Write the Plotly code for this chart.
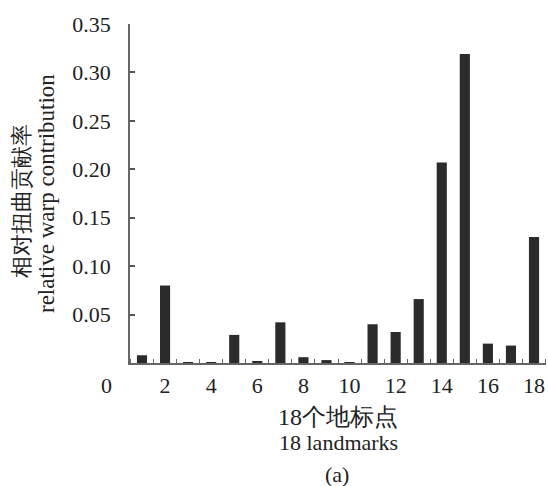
import plotly.graph_objects as go

landmarks = list(range(1, 19))
contribution = [0.008, 0.080, 0.0006, 0.0006, 0.029, 0.002, 0.042, 0.006, 0.003,
                0.0006, 0.040, 0.032, 0.066, 0.207, 0.319, 0.020, 0.018, 0.130]
x_tick_vals = [2, 4, 6, 8, 10, 12, 14, 16, 18]
y_tick_vals = [0.05, 0.10, 0.15, 0.20, 0.25, 0.30, 0.35]
y_tick_text = ["0.05", "0.10", "0.15", "0.20", "0.25", "0.30", "0.35"]

FONT = "Liberation Serif, Times New Roman, DejaVu Serif, serif"
TXT = "#222"
W, H = 548, 486
L, R, T, B = 130, 2, 24, 123

fig = go.Figure(go.Bar(x=landmarks, y=contribution, marker_color="#2b2b2b",
                       marker_line_width=0, width=0.44))

fig.update_layout(
    width=W, height=H, margin=dict(l=L, r=R, t=T, b=B),
    plot_bgcolor="white", paper_bgcolor="white", showlegend=False,
    font=dict(family=FONT, size=22, color=TXT),
    xaxis=dict(range=[0.48, 18.52], tickvals=x_tick_vals, ticks="",
               showline=True, linecolor="#666", linewidth=1.5, showgrid=False,
               zeroline=False, tickfont=dict(family=FONT, size=22, color=TXT),
               ticklabelstandoff=2,
               minor=dict(tick0=0.5, dtick=1, ticks="inside", ticklen=4,
                          tickcolor="#666", tickwidth=1.2, showgrid=False)),
    yaxis=dict(range=[0, 0.35], tickvals=y_tick_vals, ticktext=y_tick_text,
               ticks="inside", ticklen=5, tickcolor="#555", tickwidth=1.5,
               showline=True, linecolor="#666", linewidth=1.5, showgrid=False,
               zeroline=False, tickfont=dict(family=FONT, size=22, color=TXT),
               ticklabelstandoff=13),
)

def px_x(p):
    return (p - L) / (W - L - R)

def px_y(p):
    return 1 - (p - T) / (H - T - B)

ann = [
    dict(text="0", x=px_x(114), y=px_y(385), xanchor="right", font_size=22),
    dict(text="相对扭曲贡献率", x=px_x(21), y=px_y(201), textangle=-90, font_size=22),
    dict(text="relative warp contribution", x=px_x(46), y=px_y(194), textangle=-90, font_size=23),
    dict(text="18个地标点", x=px_x(338), y=px_y(417), font_size=24),
    dict(text="18 landmarks", x=px_x(338), y=px_y(442), font_size=22),
    dict(text="(a)", x=px_x(337), y=px_y(474), font_size=22),
]
for a in ann:
    a.setdefault("xanchor", "center")
    size = a.pop("font_size")
    fig.add_annotation(xref="paper", yref="paper", showarrow=False,
                       yanchor="middle",
                       font=dict(family=FONT, size=size, color=TXT), **a)

fig.write_html("out.html", config={"displayModeBar": False},
               post_script="document.body.style.margin='0';")
